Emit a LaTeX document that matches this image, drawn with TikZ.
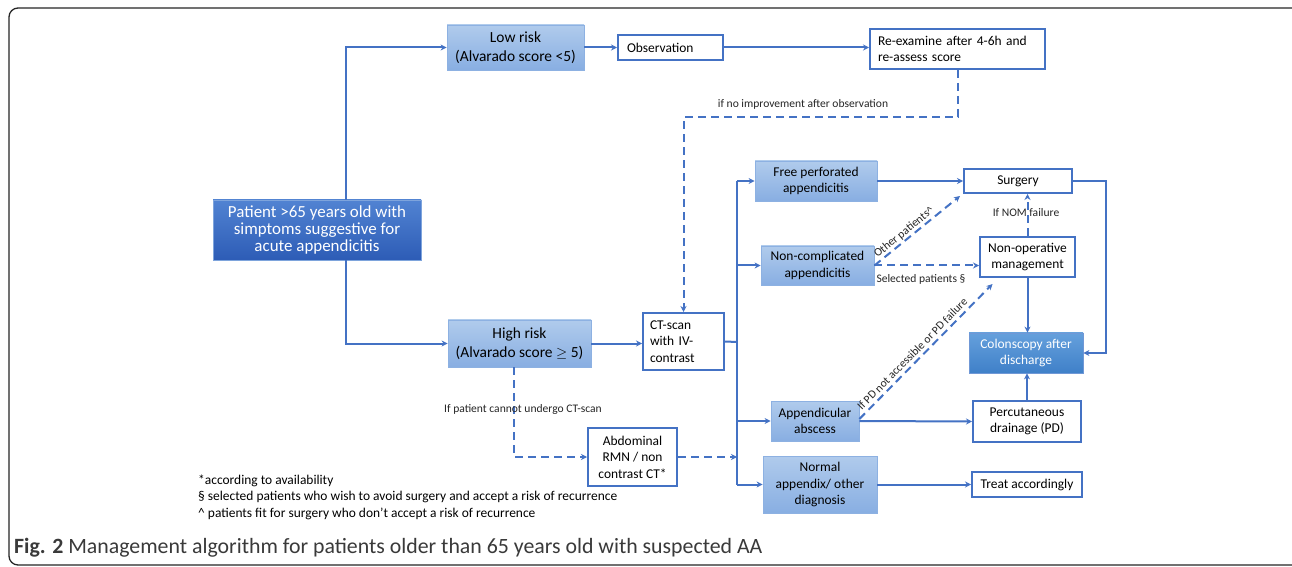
\documentclass[tikz,border=0pt]{standalone}
\usepackage{fontspec}
\setmainfont{Carlito}
\usetikzlibrary{arrows.meta}
\definecolor{flowblue}{HTML}{4472C4}
\definecolor{lighttop}{HTML}{B0CBEC}
\definecolor{lightbot}{HTML}{88AEE2}
\definecolor{boxedge}{HTML}{8DB1E2}
\definecolor{darktop}{HTML}{5183D2}
\definecolor{darkbot}{HTML}{2D5CB6}
\definecolor{midtop}{HTML}{65A0DC}
\definecolor{midbot}{HTML}{3F80C8}
\definecolor{captgray}{HTML}{3A3A3A}
\newcommand{\boxfont}{\fontsize{13.5}{16.5}\selectfont}
\newcommand{\riskfont}{\fontsize{15.5}{18.5}\selectfont}
\newcommand{\bigboxfont}{\fontsize{17}{17}\selectfont}
\newcommand{\notefont}{\fontsize{11.6}{13}\selectfont}
\newcommand{\footfont}{\fontsize{13.5}{16}\selectfont}
\newcommand{\captfont}{\fontsize{21.9}{24}\selectfont}
\begin{document}
\begin{tikzpicture}[x=1bp,y=-1bp,
  lightbox/.style={draw=boxedge,line width=0.8bp,top color=lighttop,bottom color=lightbot,inner sep=0pt,align=center,font=\boxfont,text=black},
  whitebox/.style={draw=flowblue,line width=2bp,fill=white,inner sep=0pt,align=center,font=\boxfont,text=black},
  flow/.style={draw=flowblue,line width=2bp,-{Stealth[length=6bp,width=6bp]}},
  dflow/.style={flow,dash pattern=on 8bp off 5bp},
  link/.style={draw=flowblue,line width=2bp},
  note/.style={font=\notefont,inner sep=1bp,text=black!85}]
\useasboundingbox (0,0) rectangle (1292,567);
\fill[white] (0,0) rectangle (1292,567);
\draw[rounded corners=9bp,line width=1.3bp,black!85] (9,8) rectangle (1301,565);
\node[lightbox,draw=boxedge!80!flowblue,top color=darktop,bottom color=darkbot,text=white,font=\bigboxfont,minimum width=208bp,minimum height=60bp] (patient) at (317,230) {Patient >65 years old with\\simptoms suggestive for\\acute appendicitis};
\node[lightbox,font=\riskfont,minimum width=137bp,minimum height=45bp] (low) at (515.5,47.5) {Low risk\\(Alvarado score <5)};
\node[whitebox,align=left,text width=87bp,inner xsep=9bp,minimum height=25bp] (obs) at (670.5,47.5) {Observation};
\node[whitebox,align=left,text width=159bp,inner xsep=8bp,minimum height=40bp] (reex) at (957.5,49) {Re-examine after 4-6h and\\re-assess score};
\node[lightbox,font=\riskfont,minimum width=143bp,minimum height=47bp] (high) at (519.5,343.5) {High risk\\(Alvarado score $\geq$ 5)};
\node[whitebox,align=left,text width=67bp,inner xsep=7bp,minimum height=57bp] (ct) at (683.5,341.5) {CT-scan\\with IV-\\contrast};
\node[whitebox,minimum width=89bp,minimum height=58bp] (mri) at (632.5,457) {Abdominal\\RMN / non\\contrast CT*};
\node[lightbox,minimum width=122bp,minimum height=40bp] (free) at (816,181) {Free perforated\\appendicitis};
\node[lightbox,minimum width=113bp,minimum height=39bp] (noncomp) at (817.5,265.5) {Non-complicated\\appendicitis};
\node[lightbox,minimum width=88bp,minimum height=40bp] (absc) at (815,421) {Appendicular\\abscess};
\node[lightbox,minimum width=114bp,minimum height=57bp] (normal) at (820,484.5) {Normal\\appendix/ other\\diagnosis};
\node[whitebox,minimum width=108bp,minimum height=24bp] (surg) at (1018,181) {Surgery};
\node[whitebox,minimum width=95bp,minimum height=40bp] (nom) at (1027.5,257) {Non-operative\\management};
\node[lightbox,draw=boxedge!60!flowblue,top color=midtop,bottom color=midbot,text=white,minimum width=114bp,minimum height=40bp] (colon) at (1026,353) {Colonscopy after\\discharge};
\node[whitebox,minimum width=108bp,minimum height=41bp] (perc) at (1027,421.5) {Percutaneous\\drainage (PD)};
\node[whitebox,minimum width=110bp,minimum height=25bp] (treat) at (1027,484.5) {Treat accordingly};
\coordinate (bus) at (737,342);
\draw[flow] ([xshift=29bp]patient.north) |- (low.west);
\draw[flow] ([xshift=29bp]patient.south) |- (high.west);
\draw[flow] (low.east) -- (obs.west);
\draw[flow] (obs.east) -- (obs.east -| reex.west);
\draw[dflow] (reex.south) -- ++(0,47) -| (ct.north);
\draw[flow] (high.east) -- (high.east -| ct.west);
\draw[dflow] ([xshift=-5.5bp]high.south) |- (mri.west);
\draw[link] (ct.east) -- (bus);
\draw[link] (bus |- free.west) -- (bus |- normal.west);
\draw[flow] (bus |- free.west) -- (free.west);
\draw[flow] (bus |- noncomp.west) -- (noncomp.west);
\draw[flow] (bus |- absc.west) -- (absc.west);
\draw[flow] (bus |- normal.west) -- (normal.west);
\draw[dflow] (mri.east) -- (bus |- mri.east);
\draw[flow] (free.east) -- (surg.west);
\draw[dflow] (noncomp.east) -- (noncomp.east -| nom.west);
\draw[dflow] (noncomp.east) -- node[note,sloped,above,pos=0.4] {Other patients\textasciicircum} ([shift={(-3bp,-2bp)}]surg.south west);
\draw[dflow] (nom.north) -- (surg.south -| nom.north);
\draw[flow] (nom.south) -- (nom.south |- colon.north);
\draw[flow] (surg.east) -- ++(33,0) |- (colon.east);
\draw[flow] (perc.north) -- (perc.north |- colon.south);
\draw[flow] (absc.east) -- (perc.west);
\draw[dflow] ([yshift=2bp]absc.east) -- node[note,sloped,above=2bp,pos=0.44] {If PD not accessible or PD failure} ([shift={(-35bp,-6bp)}]nom.south);
\draw[flow] (normal.east) -- (treat.west);
\node[note] (noimprove) at (803,104) {if no improvement after observation};
\node[note] (noct) at (523,409) {If patient cannot undergo CT-scan};
\node[note] (selected) at (921,279) {Selected patients §};
\node[note] (nomfail) at (1026,213) {If NOM failure};
\node[anchor=west,font=\footfont,inner sep=0pt] (foot1) at (198,481) {*according to availability};
\node[anchor=west,font=\footfont,inner sep=0pt] (foot2) at (198,497) {§ selected patients who wish to avoid surgery and accept a risk of recurrence};
\node[anchor=west,font=\footfont,inner sep=0pt] (foot3) at (198,514) {\textasciicircum{} patients fit for surgery who don’t accept a risk of recurrence};
\node[anchor=west,font=\captfont,text=captgray,inner sep=0pt] (caption) at (14,548) {\textbf{Fig. 2} Management algorithm for patients older than 65 years old with suspected AA};
\end{tikzpicture}
\end{document}
